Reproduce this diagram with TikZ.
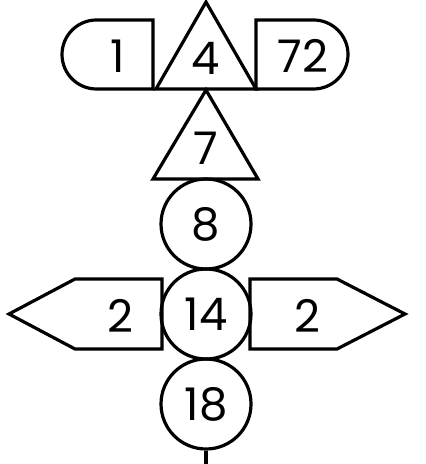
\documentclass[tikz,border=0pt]{standalone}
\usepackage{fontspec}
\setmainfont{Poppins}
\tikzset{
  bead/.style={draw,circle,minimum size=45pt,inner sep=0pt},
  num/.style={font=\fontsize{22.5}{26}\selectfont}
}
\begin{document}
\begin{tikzpicture}[x=0.5pt,y=-0.5pt,line width=1.6pt,line join=miter]
  \useasboundingbox (0,0) rectangle (426,464);
  % top row: capsule, triangle, capsule
  \draw (153,20) -- (96.5,20) arc (270:90:34.5) -- (153,89) -- cycle;
  \draw (256,20) -- (313.5,20) arc (-90:90:34.5) -- (256,89) -- cycle;
  \draw (156,89) -- (206,2) -- (256,89) -- cycle;
  \node[num] (t1) at (118,56) {1};
  \node[num] (t4) at (206,58) {4};
  \node[num] (t72) at (303,56) {72};
  % second triangle
  \draw (153,179) -- (206,90) -- (258,179) -- cycle;
  \node[num] (t7) at (206,148) {7};
  % column of beads
  \node[bead,num] (c8) at (206,224) {8};
  \node[bead,num] (c14) at (206,314) {14};
  \node[bead,num] (c18) at (206,404) {18};
  % side arrows
  \draw (162,279) -- (75,279) -- (9,314) -- (75,349) -- (162,349) -- cycle;
  \draw (250,279) -- (337,279) -- (405,314) -- (337,349) -- (250,349) -- cycle;
  \node[num] (l2) at (120,316) {2};
  \node[num] (r2) at (307,316) {2};
  % tail
  \coordinate (tail) at (206,464);
  \draw (c18.south) -- (tail);
\end{tikzpicture}
\end{document}
